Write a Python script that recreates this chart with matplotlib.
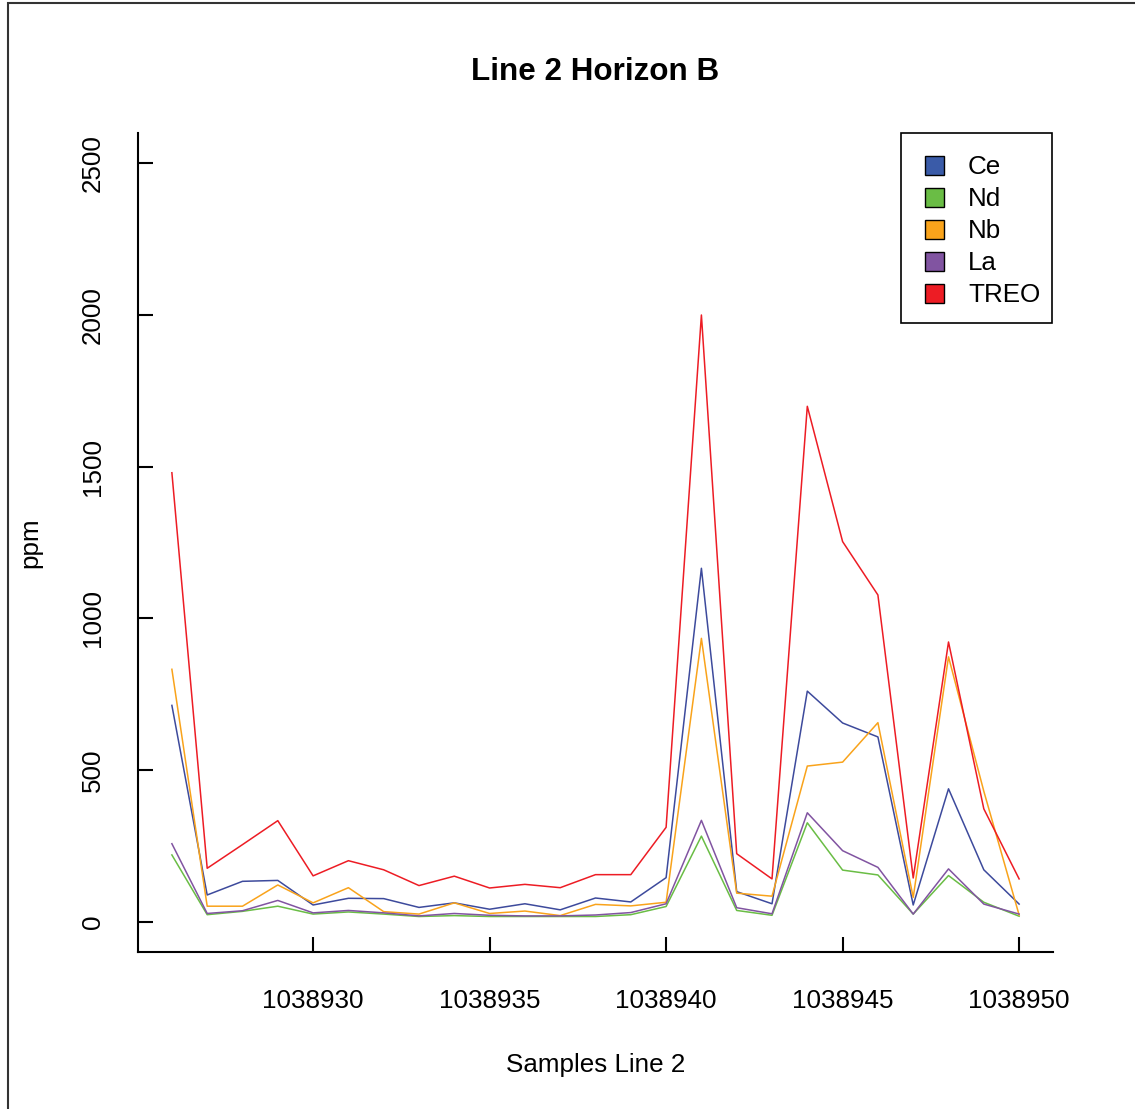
import numpy as np
import matplotlib
matplotlib.use('Agg')
from matplotlib import pyplot as plt
from matplotlib.patches import Rectangle

plt.rcParams['font.family'] = ['Liberation Sans', 'DejaVu Sans']

samples = np.arange(1038926, 1038951)

ce = [713, 88, 133, 136, 55, 77, 76, 47, 62, 41, 59, 39, 78, 65, 145,
      1165, 99, 59, 760, 655, 609, 55, 438, 171, 58]
nd = [220, 23, 34, 51, 25, 32, 25, 17, 20, 17, 17, 17, 17, 23, 50,
      282, 37, 21, 326, 170, 154, 25, 152, 64, 18]
nb = [832, 51, 51, 121, 62, 112, 33, 25, 62, 27, 35, 20, 57, 52, 64,
      934, 94, 84, 513, 526, 656, 80, 873, 430, 22]
la = [257, 27, 36, 70, 29, 37, 29, 19, 27, 21, 19, 19, 22, 30, 59,
      334, 46, 26, 359, 234, 179, 25, 174, 58, 25]
treo = [1480, 176, 254, 333, 151, 201, 171, 119, 150, 111, 123, 112, 155, 155, 311,
        2000, 224, 141, 1699, 1253, 1077, 144, 922, 372, 141]

names = ['Ce', 'Nd', 'Nb', 'La', 'TREO']
series = [ce, nd, nb, la, treo]
line_colors = ['#3d4a9c', '#6abd45', '#f9a31b', '#8154a1', '#ed1c24']
key_colors = ['#3a5ba8', '#6abd45', '#f9a31b', '#8154a1', '#ed1c24']

W, H = 1135, 1109


def px(x, y):
    # device pixels (origin top-left) -> figure fraction
    return x / W, 1 - y / H


fig = plt.figure(figsize=(W / 100, H / 100), dpi=100)
ax = fig.add_axes([138 / W, 1 - 952 / H, 915 / W, 819 / H])

for vals, col in zip(series, line_colors):
    ax.plot(samples, vals, color=col, lw=1.1)

ax.set_xlim(1038925.04, 1038950.96)
ax.set_ylim(-100, 2600)
xt = [1038930, 1038935, 1038940, 1038945, 1038950]
ax.set_xticks(xt)
ax.set_xticklabels([str(v) for v in xt])
ax.set_yticks([0, 500, 1000, 1500, 2000, 2500])
ax.set_yticklabels(['0', '500', '1000', '1500', '2000', '2500'],
                   rotation=90, va='center')

for side in ['top', 'right']:
    ax.spines[side].set_visible(False)
for side in ['left', 'bottom']:
    ax.spines[side].set_linewidth(1.5)
ax.tick_params(direction='in', length=10.5, width=1.5, labelsize=18.7)
ax.tick_params(axis='x', pad=27)
ax.tick_params(axis='y', pad=24)

fig.text(*px(595.5, 72), 'Line 2 Horizon B', fontsize=22.6, fontweight='bold',
         ha='center', va='center')
fig.text(*px(595.5, 1065), 'Samples Line 2', fontsize=18.7,
         ha='center', va='center')
fig.text(*px(30, 542.5), 'ppm', fontsize=18.7, rotation=90,
         ha='center', va='center')

# legend box, drawn by hand in device pixels
x0, y0 = px(901, 323)
x1, y1 = px(1052, 133)
fig.patches.append(Rectangle((x0, y0), x1 - x0, y1 - y0, transform=fig.transFigure,
                             facecolor='white', edgecolor='black', lw=1.2, zorder=5))
for i, (name, col) in enumerate(zip(names, key_colors)):
    yc = 165 + 32 * i
    sx0, sy0 = px(925, yc + 9.5)
    sx1, sy1 = px(944, yc - 9.5)
    fig.patches.append(Rectangle((sx0, sy0), sx1 - sx0, sy1 - sy0,
                                 transform=fig.transFigure, facecolor=col,
                                 edgecolor='black', lw=1.0, zorder=6))
    fig.text(*px(968, yc + 2), name, fontsize=18.7, ha='left', va='center', zorder=6)

# outer frame of the device region
fig.patches.append(Rectangle((8 / W, -0.1), 1.2, 1 - 3 / H + 0.1,
                             transform=fig.transFigure, fill=False,
                             edgecolor='#333333', lw=1.5))

fig.savefig('out.png', dpi=100)
